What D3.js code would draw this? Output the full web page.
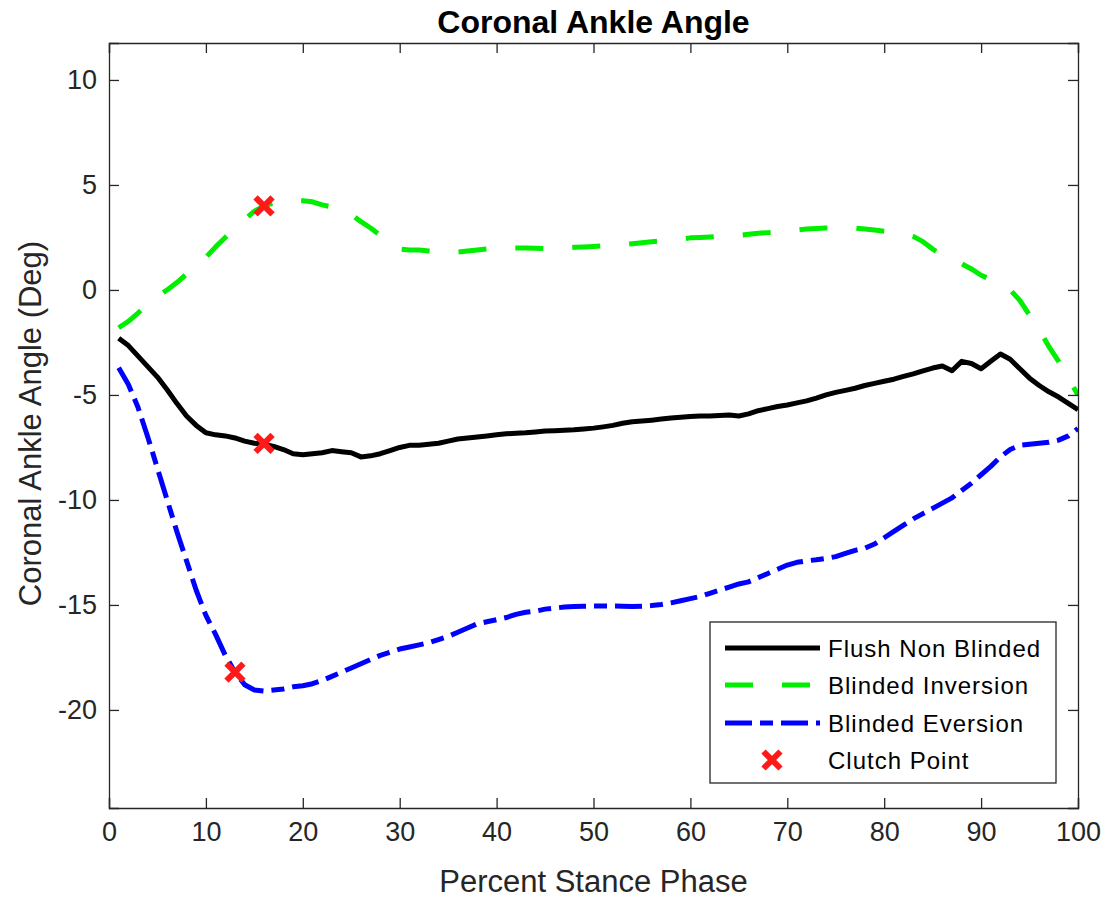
<!DOCTYPE html>
<html>
<head>
<meta charset="utf-8">
<script src="https://cdn.jsdelivr.net/npm/d3@7"></script>
<style>
  html, body { margin: 0; padding: 0; background: #fff; }
  svg { display: block; font-family: "Liberation Sans", Arial, sans-serif; }
</style>
</head>
<body>
<svg id="chart" width="1106" height="900"></svg>
<script>
// ---- data ----
const pct = [1,2,3,4,5,6,7,8,9,10,11,12,13,14,15,16,17,18,19,20,21,22,23,24,25,26,27,28,29,30,
  31,32,33,34,35,36,37,38,39,40,41,42,43,44,45,46,47,48,49,50,51,52,53,54,55,56,57,58,59,60,
  61,62,63,64,65,66,67,68,69,70,71,72,73,74,75,76,77,78,79,80,81,82,83,84,85,86,87,88,89,90,
  91,92,93,94,95,96,97,98,99,100];

const flushNonBlinded = [-2.3,-2.65,-3.15,-3.65,-4.15,-4.75,-5.4,-6.0,-6.45,-6.8,-6.9,-6.95,-7.05,-7.2,-7.3,-7.35,-7.45,-7.6,-7.8,-7.85,
  -7.8,-7.75,-7.65,-7.7,-7.75,-7.95,-7.9,-7.8,-7.65,-7.5,-7.4,-7.4,-7.35,-7.3,-7.2,-7.1,-7.05,-7.0,-6.95,-6.9,
  -6.85,-6.82,-6.8,-6.76,-6.72,-6.7,-6.68,-6.66,-6.62,-6.58,-6.52,-6.45,-6.35,-6.28,-6.24,-6.2,-6.15,-6.1,-6.06,-6.03,
  -6.0,-6.0,-5.98,-5.96,-6.0,-5.9,-5.75,-5.65,-5.55,-5.48,-5.38,-5.28,-5.15,-5.0,-4.88,-4.78,-4.68,-4.55,-4.45,-4.35,
  -4.25,-4.12,-4.0,-3.85,-3.72,-3.62,-3.85,-3.4,-3.5,-3.75,-3.4,-3.05,-3.3,-3.75,-4.2,-4.55,-4.85,-5.1,-5.4,-5.7];

const blindedInversion = [-1.8,-1.5,-1.1,-0.65,-0.3,0.0,0.35,0.75,1.15,1.55,2.05,2.5,2.95,3.35,3.75,4.0,4.15,4.2,4.25,4.25,
  4.2,4.05,3.95,3.8,3.6,3.25,2.95,2.6,2.2,1.95,1.9,1.9,1.85,1.8,1.8,1.8,1.85,1.9,1.95,2.0,
  2.0,2.0,2.0,1.98,1.97,1.97,2.0,2.03,2.05,2.07,2.1,2.12,2.15,2.2,2.25,2.3,2.33,2.37,2.42,2.48,
  2.5,2.52,2.55,2.58,2.6,2.65,2.7,2.73,2.76,2.8,2.85,2.9,2.93,2.95,2.96,2.96,2.95,2.9,2.85,2.8,
  2.75,2.7,2.55,2.3,1.95,1.65,1.45,1.25,1.0,0.7,0.5,0.25,0.0,-0.5,-1.2,-1.9,-2.7,-3.4,-4.2,-5.0];

const blindedEversion = [-3.7,-4.5,-5.6,-7.0,-8.5,-10.0,-11.5,-12.9,-14.3,-15.5,-16.4,-17.4,-18.2,-18.8,-19.05,-19.1,-19.05,-19.0,-18.9,-18.85,
  -18.75,-18.6,-18.4,-18.2,-18.0,-17.8,-17.6,-17.4,-17.25,-17.1,-17.0,-16.9,-16.8,-16.65,-16.5,-16.3,-16.1,-15.9,-15.8,-15.7,
  -15.6,-15.45,-15.35,-15.3,-15.2,-15.15,-15.1,-15.08,-15.06,-15.05,-15.05,-15.05,-15.06,-15.07,-15.06,-15.03,-14.98,-14.9,-14.8,-14.7,
  -14.6,-14.45,-14.3,-14.15,-14.0,-13.9,-13.7,-13.5,-13.3,-13.1,-12.97,-12.9,-12.85,-12.78,-12.7,-12.55,-12.4,-12.3,-12.1,-11.8,
  -11.5,-11.2,-10.9,-10.65,-10.4,-10.15,-9.9,-9.55,-9.2,-8.8,-8.4,-7.95,-7.6,-7.4,-7.35,-7.3,-7.25,-7.15,-6.95,-6.6];

const clutchX = [16, 16, 13];
const clutchY = [4.0, -7.31, -18.2];

const xTicks = [0,10,20,30,40,50,60,70,80,90,100];
const yTicks = [-20,-15,-10,-5,0,5,10];

const seriesNames = ["Flush Non Blinded", "Blinded Inversion", "Blinded Eversion", "Clutch Point"];

// ---- layout ----
const svg = d3.select("#chart");
const L = 109, R = 1078, T = 43, B = 808;
const x = d3.scaleLinear().domain([0, 100]).range([L, R]);
const y = d3.scaleLinear().domain([-24.67, 11.76]).range([B, T]);
const axisColor = "#262626";

const series = [
  { name: seriesNames[0], values: flushNonBlinded, color: "#000000", dash: null },
  { name: seriesNames[1], values: blindedInversion, color: "#00ee00", dash: "28,29" },
  { name: seriesNames[2], values: blindedEversion, color: "#0000ff", dash: "27,8,13,8" }
];

svg.append("defs").append("clipPath").attr("id", "clip")
  .append("rect").attr("x", L).attr("y", T).attr("width", R - L).attr("height", B - T);

const line = d3.line().x((d, i) => x(pct[i])).y(d => y(d));
const plot = svg.append("g").attr("clip-path", "url(#clip)");
series.forEach(s => {
  plot.append("path")
    .datum(s.values)
    .attr("d", line)
    .attr("fill", "none")
    .attr("stroke", s.color)
    .attr("stroke-width", 5)
    .attr("stroke-linejoin", "round")
    .attr("stroke-dasharray", s.dash);
});

function drawX(g, cx, cy, size) {
  const h = size / 2;
  g.append("path")
    .attr("d", `M${cx - h},${cy - h}L${cx + h},${cy + h}M${cx - h},${cy + h}L${cx + h},${cy - h}`)
    .attr("stroke", "#ff1a1a").attr("stroke-width", 6).attr("fill", "none");
}
clutchX.forEach((cx, i) => drawX(svg, x(cx), y(clutchY[i]), 17));

// ---- axes ----
const tickFont = 27;
const axB = svg.append("g").attr("transform", `translate(0,${B})`)
  .call(d3.axisBottom(x).tickValues(xTicks).tickSize(-10).tickPadding(14).tickFormat(d3.format("d")));
const axT = svg.append("g").attr("transform", `translate(0,${T})`)
  .call(d3.axisTop(x).tickValues(xTicks).tickSize(-10).tickFormat(""));
const axLft = svg.append("g").attr("transform", `translate(${L},0)`)
  .call(d3.axisLeft(y).tickValues(yTicks).tickSize(-10).tickPadding(12).tickFormat(d3.format("d")));
const axRt = svg.append("g").attr("transform", `translate(${R},0)`)
  .call(d3.axisRight(y).tickValues(yTicks).tickSize(-10).tickFormat(""));
[axB, axT, axLft, axRt].forEach(a => {
  a.selectAll("path.domain").attr("stroke", axisColor).attr("stroke-width", 1.3);
  a.selectAll(".tick line").attr("stroke", axisColor).attr("stroke-width", 1.3);
  a.selectAll(".tick text").attr("fill", axisColor).attr("font-size", tickFont)
    .attr("font-family", "'Liberation Sans', Arial, sans-serif");
});
axLft.selectAll(".tick text").text(d => d < 0 ? "-" + Math.abs(d) : d);

// ---- labels ----
svg.append("text").attr("x", (L + R) / 2).attr("y", 33).attr("text-anchor", "middle")
  .attr("font-size", 32).attr("font-weight", "bold").attr("fill", "#000")
  .text("Coronal Ankle Angle");
svg.append("text").attr("x", (L + R) / 2).attr("y", 892).attr("text-anchor", "middle")
  .attr("font-size", 31).attr("fill", axisColor)
  .text("Percent Stance Phase");
svg.append("text").attr("transform", `translate(41,${(T + B) / 2 - 2}) rotate(-90)`)
  .attr("text-anchor", "middle").attr("font-size", 31).attr("fill", axisColor)
  .text("Coronal Ankle Angle (Deg)");

// ---- legend ----
const lg = svg.append("g");
lg.append("rect").attr("x", 710).attr("y", 622).attr("width", 346).attr("height", 161)
  .attr("fill", "#fff").attr("stroke", axisColor).attr("stroke-width", 1.3);
const rowY = [648, 685, 723, 760];
series.forEach((s, i) => {
  lg.append("line").attr("x1", 725).attr("x2", 820).attr("y1", rowY[i]).attr("y2", rowY[i])
    .attr("stroke", s.color).attr("stroke-width", 5).attr("stroke-dasharray", s.dash);
});
drawX(lg, 772, rowY[3], 17);
seriesNames.forEach((n, i) => {
  lg.append("text").attr("x", 828).attr("y", rowY[i]).attr("dy", "0.36em")
    .attr("font-size", 24).attr("fill", "#000").attr("letter-spacing", 1).text(n);
});
</script>
</body>
</html>
